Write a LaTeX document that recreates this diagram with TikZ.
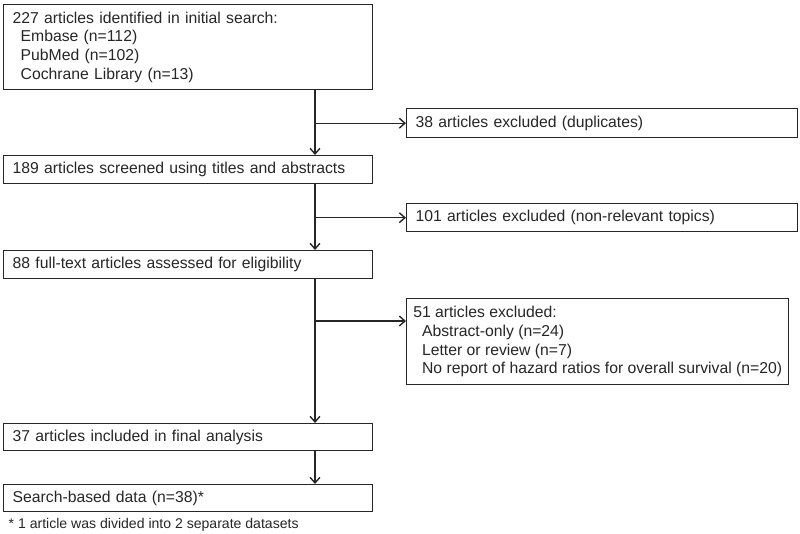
\documentclass[tikz,border=0pt]{standalone}
\usepackage{fontspec}
\setmainfont{Liberation Sans}
\usetikzlibrary{arrows.meta}

\begin{document}
\begin{tikzpicture}[line width=1pt, font=\fontsize{11.2}{13.3}\selectfont, text=black!85]
  \tikzset{
    box/.style={draw=black!85, anchor=north west, align=left, inner xsep=0.225cm, inner ysep=0pt},
    flow/.style={draw=black!85, -{Straight Barb[length=4pt,width=7pt]}}
  }
  \useasboundingbox (0,0) rectangle (20,-13.325);

  % main column
  \node[box, text width=8.775cm, minimum height=2.125cm] (search) at (0.075,-0.1)
    {227 articles identified in initial search:\\
     \hspace*{0.2cm}Embase (n=112)\\
     \hspace*{0.2cm}PubMed (n=102)\\
     \hspace*{0.2cm}Cochrane Library (n=13)};
  \node[box, text width=8.775cm, minimum height=0.7cm] (screen) at (0.075,-3.875)
    {189 articles screened using titles and abstracts};
  \node[box, text width=8.775cm, minimum height=0.7cm] (full) at (0.075,-6.25)
    {88 full-text articles assessed for eligibility};
  \node[box, text width=8.775cm, minimum height=0.675cm] (incl) at (0.075,-10.575)
    {37 articles included in final analysis};
  \node[box, text width=8.775cm, minimum height=0.675cm] (data) at (0.075,-12.1)
    {Search-based data (n=38)*};
  \node[anchor=west, inner sep=0pt, font=\fontsize{10}{12}\selectfont] (note) at (0.2,-13.125)
    {* 1 article was divided into 2 separate datasets};

  % exclusions
  \node[box, text width=9.325cm, minimum height=0.725cm] (dup) at (10.15,-2.7)
    {38 articles excluded (duplicates)};
  \node[box, text width=9.325cm, minimum height=0.7cm] (topic) at (10.15,-5.075)
    {101 articles excluded (non-relevant topics)};
  \node[box, inner xsep=0.15cm, minimum width=9.55cm, minimum height=2.15cm] (excl) at (10.15,-7.45)
    {51 articles excluded:\\
     \hspace*{0.22cm}Abstract-only (n=24)\\
     \hspace*{0.22cm}Letter or review (n=7)\\
     \hspace*{0.22cm}No report of hazard ratios for overall survival (n=20)};

  \coordinate (trunk) at (7.875,0);
  \coordinate (br3) at (7.875,-8.025);

  \draw[flow] (search.south -| trunk) -- (screen.north -| trunk);
  \draw[flow] (screen.south -| trunk) -- (full.north -| trunk);
  \draw[flow] (full.south -| trunk) -- (incl.north -| trunk);
  \draw[flow] (incl.south -| trunk) -- (data.north -| trunk);

  \draw[flow] (trunk |- dup.west) -- (dup.west);
  \draw[flow] (trunk |- topic.west) -- (topic.west);
  \draw[flow] (br3) -- (br3 -| excl.west);
\end{tikzpicture}
\end{document}
